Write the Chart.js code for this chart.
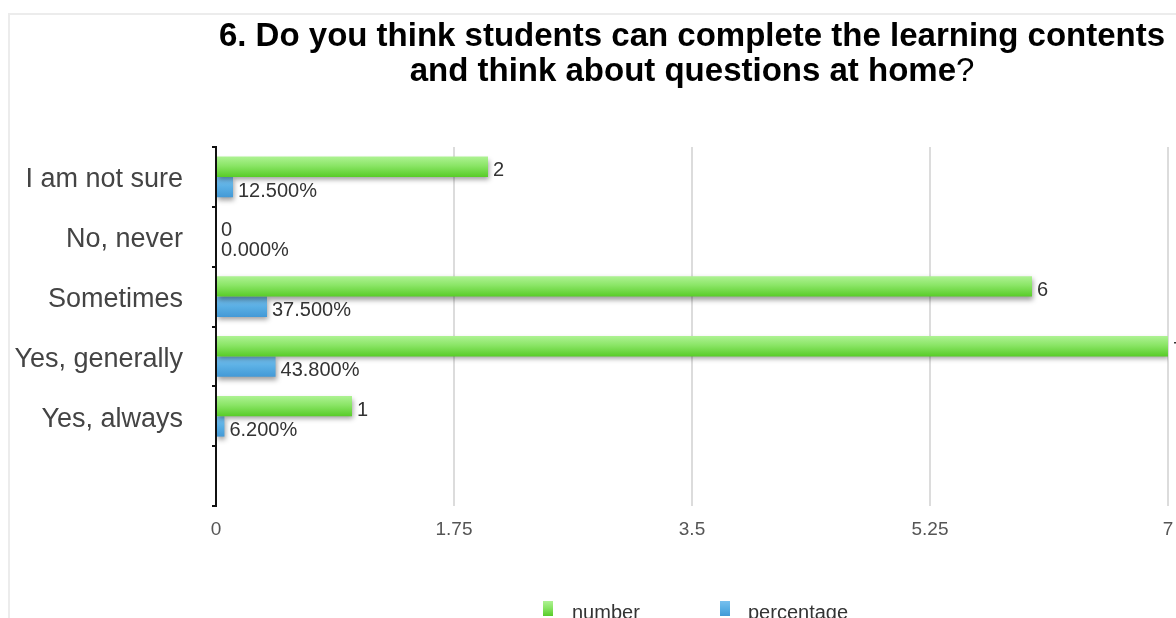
<!DOCTYPE html>
<html>
<head>
<meta charset="utf-8">
<script src="https://cdn.jsdelivr.net/npm/chart.js@4.4.1/dist/chart.umd.min.js"></script>
<style>
  html, body { margin: 0; padding: 0; background: #fff; overflow: hidden; }
  #wrap { position: relative; width: 1176px; height: 618px; }
</style>
</head>
<body>
<div id="wrap"><canvas id="chart"></canvas></div>
<script>
// Survey question 6: answers counted, and each answer's share of all replies
const titleLines = ['6. Do you think students can complete the learning contents', 'and think about questions at home'];
const titleEnd = '?';
const categories = ['I am not sure', 'No, never', 'Sometimes', 'Yes, generally', 'Yes, always', ''];
const numberCounts = [2, 0, 6, 7, 1, null];
const percentShares = [0.125, 0, 0.375, 0.438, 0.062, null];
const seriesNames = ['number', 'percentage'];
const xTickValues = [0, 1.75, 3.5, 5.25, 7];

const FONT = '"Liberation Sans", Arial, Helvetica, sans-serif';
Chart.defaults.font.family = FONT;

// glossy top-to-bottom fills for each series
const seriesFills = [
  { flat: '#7ddc55', stops: [[0, '#aef293'], [0.45, '#8ae566'], [1, '#58cc28']] },
  { flat: '#58ade2', stops: [[0, '#78c0ee'], [0.5, '#5aafe4'], [1, '#4399d6']] }
];

function labelFor(datasetIndex, v) {
  return datasetIndex === 0 ? String(v) : (v * 100).toFixed(3) + '%';
}

// light frame around the drawing
const framePlugin = {
  id: 'frame',
  beforeDraw(chart) {
    const ctx = chart.ctx;
    ctx.save();
    ctx.strokeStyle = '#ececec';
    ctx.lineWidth = 2;
    ctx.beginPath();
    ctx.moveTo(9, chart.height);
    ctx.lineTo(9, 14);
    ctx.lineTo(chart.width, 14);
    ctx.stroke();
    ctx.restore();
  }
};

// two-line heading centred over the plot, closing mark in regular weight
const headingPlugin = {
  id: 'heading',
  afterDraw(chart) {
    const ctx = chart.ctx;
    const a = chart.chartArea;
    const cx = (a.left + a.right) / 2;
    const bold = 'bold 33px ' + FONT;
    const regular = '33px ' + FONT;
    ctx.save();
    ctx.fillStyle = '#000';
    ctx.textBaseline = 'alphabetic';
    ctx.font = bold;
    ctx.textAlign = 'center';
    ctx.fillText(titleLines[0], cx, 46);
    const w1 = ctx.measureText(titleLines[1]).width;
    ctx.font = regular;
    const w2 = ctx.measureText(titleEnd).width;
    const x0 = cx - (w1 + w2) / 2;
    ctx.textAlign = 'left';
    ctx.font = bold;
    ctx.fillText(titleLines[1], x0, 81);
    ctx.font = regular;
    ctx.fillText(titleEnd, x0 + w1, 81);
    ctx.restore();
  }
};

// gradient fills, soft drop shadow, and value labels at the bar ends
const barStylePlugin = {
  id: 'barStyle',
  beforeDatasetsDraw(chart) {
    const ctx = chart.ctx;
    chart.data.datasets.forEach((ds, i) => {
      const meta = chart.getDatasetMeta(i);
      meta.data.forEach(el => {
        if (el.skip) return;
        const top = el.y - el.height / 2;
        const g = ctx.createLinearGradient(0, top, 0, top + el.height);
        seriesFills[i].stops.forEach(([o, c]) => g.addColorStop(o, c));
        el.options = Object.assign({}, el.options, { backgroundColor: g });
      });
    });
    ctx.save();
    ctx.shadowColor = 'rgba(0,0,0,0.38)';
    ctx.shadowBlur = 5;
    ctx.shadowOffsetX = 1;
    ctx.shadowOffsetY = 3;
  },
  afterDatasetsDraw(chart) {
    const ctx = chart.ctx;
    ctx.restore();
    ctx.save();
    ctx.font = '20px ' + FONT;
    ctx.fillStyle = '#333';
    ctx.textAlign = 'left';
    ctx.textBaseline = 'middle';
    chart.data.datasets.forEach((ds, i) => {
      const meta = chart.getDatasetMeta(i);
      meta.data.forEach((el, j) => {
        const v = ds.data[j];
        if (v === null || v === undefined) return;
        ctx.fillText(labelFor(i, v), el.x + 5, el.y + 4);
      });
    });
    ctx.restore();
  }
};

// legend row under the axis
const legendRowPlugin = {
  id: 'legendRow',
  afterDraw(chart) {
    const ctx = chart.ctx;
    const a = chart.chartArea;
    const cx = (a.left + a.right) / 2;
    const spots = [{ box: cx - 149, text: cx - 120 }, { box: cx + 28, text: cx + 56 }];
    ctx.save();
    ctx.font = '20px ' + FONT;
    ctx.textBaseline = 'alphabetic';
    chart.data.datasets.forEach((ds, i) => {
      const s = spots[i];
      const g = ctx.createLinearGradient(0, 601, 0, 616);
      seriesFills[i].stops.forEach(([o, c]) => g.addColorStop(o, c));
      ctx.fillStyle = g;
      ctx.fillRect(s.box, 601, 10, 15);
      ctx.fillStyle = '#333';
      ctx.fillText(ds.label, s.text, 619);
    });
    ctx.restore();
  }
};

new Chart(document.getElementById('chart'), {
  type: 'bar',
  data: {
    labels: categories,
    datasets: [
      { label: seriesNames[0], data: numberCounts, backgroundColor: () => seriesFills[0].flat },
      { label: seriesNames[1], data: percentShares, backgroundColor: () => seriesFills[1].flat }
    ]
  },
  options: {
    indexAxis: 'y',
    responsive: true,
    maintainAspectRatio: false,
    animation: false,
    datasets: { bar: { categoryPercentage: 0.68, barPercentage: 1, borderWidth: 0 } },
    layout: { padding: { top: 147, right: 8, bottom: 72, left: 0 } },
    plugins: { legend: { display: false }, title: { display: false }, tooltip: { enabled: false } },
    scales: {
      x: {
        min: 0,
        max: 7,
        afterBuildTicks: s => { s.ticks = xTickValues.map(v => ({ value: v })); },
        afterFit: s => { s.height = 40; s.paddingLeft = 0; s.paddingRight = 0; },
        ticks: { color: '#555', font: { size: 19 }, padding: 12, callback: v => String(v) },
        grid: { color: '#dcdcdc', lineWidth: 2, drawTicks: false },
        border: { display: false }
      },
      y: {
        afterFit: s => { s.width = 216; },
        ticks: { color: '#444', font: { size: 27 }, padding: 29, labelOffset: 3 },
        grid: { drawOnChartArea: false, color: '#111', lineWidth: 2, tickLength: 4, offset: true },
        border: { color: '#111', width: 2 }
      }
    }
  },
  plugins: [framePlugin, barStylePlugin, headingPlugin, legendRowPlugin]
});
</script>
</body>
</html>
